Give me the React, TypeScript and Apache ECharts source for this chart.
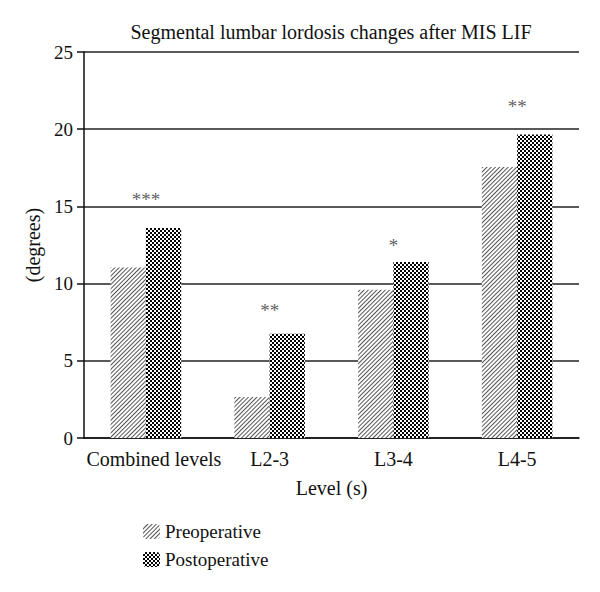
import React, { useEffect, useRef } from "react";
import * as echarts from "echarts";

const categories = ["Combined levels", "L2-3", "L3-4", "L4-5"];
const preoperative = [11.05, 2.65, 9.6, 17.55];
const postoperative = [13.6, 6.75, 11.4, 19.65];
const significance = ["***", "**", "*", "**"];
const significanceY = [15.45, 8.25, 12.45, 21.45];
const yTicks = { min: 0, max: 25, interval: 5 };

const FONT = "Liberation Serif";

export default function App() {
  const ref = useRef<HTMLDivElement>(null);
  useEffect(() => {
    if (!ref.current) return;
    const chart = echarts.init(ref.current, undefined, { renderer: "svg" });
    const hatch = {
      symbol: "rect",
      symbolSize: 1,
      color: "#555",
      dashArrayX: [1, 0],
      dashArrayY: [1, 1.6],
      rotation: -Math.PI / 4,
    };
    const checker = {
      symbol: "rect",
      symbolSize: 1,
      color: "#000",
      dashArrayX: [
        [2, 2],
        [0, 2, 2, 0],
      ],
      dashArrayY: [2, 0],
      rotation: 0,
    };
    chart.setOption({
      animation: false,
      backgroundColor: "#fff",
      textStyle: { fontFamily: FONT, color: "#111" },
      title: {
        text: "Segmental lumbar lordosis changes after MIS LIF",
        left: 326,
        textAlign: "center",
        top: 17,
        textStyle: { fontFamily: FONT, fontSize: 20, fontWeight: "normal", color: "#111" },
      },
      legend: {
        orient: "vertical",
        left: 138,
        top: 517,
        itemWidth: 17,
        itemHeight: 15,
        itemGap: 9,
        data: ["Preoperative", "Postoperative"],
        textStyle: { fontFamily: FONT, fontSize: 19, color: "#111" },
      },
      grid: { left: 84, right: 21, top: 52, bottom: 154 },
      xAxis: {
        type: "category",
        data: categories,
        name: "Level (s)",
        nameLocation: "middle",
        nameGap: 40,
        nameTextStyle: { fontFamily: FONT, fontSize: 20, color: "#111" },
        axisLine: { lineStyle: { color: "#111", width: 1.5 } },
        axisTick: { show: false },
        axisLabel: {
          interval: 0,
          fontFamily: FONT,
          fontSize: 20,
          color: "#111",
          margin: 11,
          formatter: (v: string, i: number) => (i === 0 ? "{first|" + v + "}" : v),
          rich: {
            first: { fontFamily: FONT, fontSize: 20, color: "#111", padding: [0, 0, 0, 16] },
          },
        },
      },
      yAxis: {
        type: "value",
        min: yTicks.min,
        max: yTicks.max,
        interval: yTicks.interval,
        name: "(degrees)",
        nameLocation: "middle",
        nameGap: 35,
        nameTextStyle: { fontFamily: FONT, fontSize: 20, color: "#111" },
        axisLine: { show: true, lineStyle: { color: "#111", width: 1.5 } },
        axisTick: { show: true, inside: false, length: 7, lineStyle: { color: "#111", width: 1.5 } },
        axisLabel: { fontFamily: FONT, fontSize: 19, color: "#111", margin: 11 },
        splitLine: { show: true, lineStyle: { color: "#222", width: 1.5 } },
      },
      series: [
        {
          name: "Preoperative",
          type: "bar",
          data: preoperative,
          barGap: "0%",
          barCategoryGap: "43%",
          itemStyle: { color: "#fff", decal: hatch },
        },
        {
          name: "Postoperative",
          type: "bar",
          data: postoperative,
          barGap: "0%",
          barCategoryGap: "43%",
          itemStyle: { color: "#fff", decal: checker },
        },
        {
          name: "sig",
          type: "scatter",
          data: significanceY,
          symbolSize: 0,
          silent: true,
          label: {
            show: true,
            position: "inside",
            formatter: (p: any) => significance[p.dataIndex],
            fontFamily: FONT,
            fontSize: 19,
            color: "#333",
          },
        },
      ],
    });
    return () => chart.dispose();
  }, []);
  return (
    <div
      ref={ref}
      style={{ position: "fixed", left: 0, top: 0, width: 600, height: 592 }}
    />
  );
}
